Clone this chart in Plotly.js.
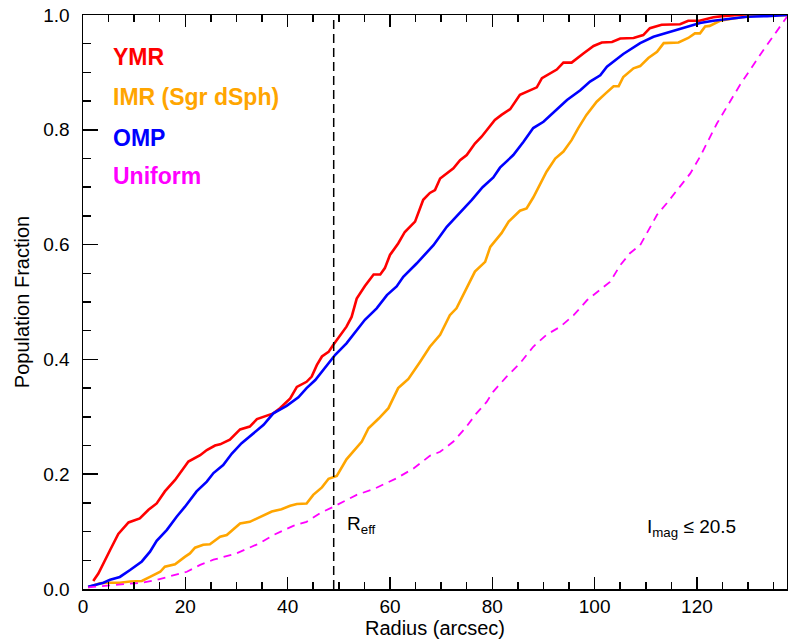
<!DOCTYPE html>
<html>
<head>
<meta charset="utf-8">
<script src="https://cdn.plot.ly/plotly-3.0.1.min.js"></script>
<style>html,body{margin:0;padding:0;background:#fff;}#chart{width:788px;height:640px;}</style>
</head>
<body>
<div id="chart"></div>
<script>
// ---- Data ----
const seriesNames = ["YMR", "IMR (Sgr dSph)", "OMP", "Uniform"];
const seriesColors = ["#ff0000", "#ffa500", "#0000ff", "#ff00ff"];

const ymrR = [2, 3, 5.3, 6.9, 8.9, 11.1, 12.8, 14.4, 16.0, 18.0, 20.6, 22.9, 24.2, 25.8, 26.8, 28.7, 30.7, 32.6, 34.0, 37.2, 38.5, 40.5, 41.8, 43.7, 44.7, 45.7, 46.7, 48.0, 48.9, 51.5, 52.5, 53.5, 55.1, 56.8, 58.1, 59.0, 60.0, 61.6, 62.9, 64.9, 66.5, 67.8, 68.8, 69.8, 72.4, 73.7, 75.0, 76.6, 77.9, 80.5, 81.8, 83.5, 85.4, 88.7, 89.7, 92.6, 93.9, 95.5, 97.8, 99.8, 101.4, 103.4, 105.0, 107.6, 109.5, 110.8, 113.1, 116.7, 118.3, 120.5, 123.2, 125, 128, 137.6];
const ymrF = [0.014, 0.027, 0.068, 0.096, 0.116, 0.123, 0.138, 0.149, 0.170, 0.190, 0.222, 0.233, 0.242, 0.250, 0.252, 0.260, 0.278, 0.283, 0.296, 0.306, 0.315, 0.332, 0.352, 0.361, 0.370, 0.390, 0.405, 0.413, 0.425, 0.457, 0.474, 0.506, 0.528, 0.548, 0.548, 0.559, 0.582, 0.602, 0.622, 0.640, 0.678, 0.690, 0.695, 0.715, 0.733, 0.747, 0.756, 0.776, 0.788, 0.817, 0.826, 0.836, 0.861, 0.874, 0.890, 0.905, 0.917, 0.917, 0.933, 0.946, 0.952, 0.953, 0.959, 0.960, 0.965, 0.977, 0.983, 0.984, 0.990, 0.990, 0.996, 0.998, 1.0, 1.0];

const imrR = [1, 3.3, 5.3, 7.2, 9.2, 11.5, 13.1, 15.1, 16.0, 18.0, 19.9, 20.9, 21.9, 23.5, 24.8, 26.8, 28.1, 30.7, 32.6, 34.6, 36.9, 38.8, 40.5, 41.8, 43.7, 45.0, 46.7, 48.0, 49.6, 51.5, 54.5, 55.8, 57.8, 59.7, 61.6, 62.6, 63.6, 65.9, 67.8, 69.8, 71.7, 73.0, 75.0, 76.6, 78.6, 79.6, 81.8, 83.2, 85.4, 86.7, 88.0, 89.7, 90.6, 92.3, 93.9, 95.5, 96.8, 98.4, 100.4, 102.1, 103.7, 104.7, 105.6, 107.6, 108.9, 110.5, 112.2, 113.5, 116.4, 118.3, 119.6, 120.6, 121.6, 122.5, 124.5, 127.1, 129.8, 132, 137.6];
const imrF = [0.003, 0.010, 0.011, 0.011, 0.013, 0.014, 0.021, 0.030, 0.039, 0.043, 0.056, 0.062, 0.072, 0.077, 0.078, 0.091, 0.094, 0.114, 0.117, 0.126, 0.135, 0.139, 0.145, 0.148, 0.149, 0.164, 0.177, 0.192, 0.197, 0.226, 0.257, 0.280, 0.297, 0.315, 0.350, 0.358, 0.366, 0.396, 0.422, 0.443, 0.477, 0.489, 0.524, 0.553, 0.570, 0.596, 0.620, 0.640, 0.659, 0.663, 0.682, 0.710, 0.727, 0.750, 0.762, 0.782, 0.803, 0.826, 0.849, 0.863, 0.876, 0.876, 0.892, 0.907, 0.911, 0.925, 0.936, 0.951, 0.952, 0.960, 0.968, 0.968, 0.980, 0.981, 0.990, 0.994, 0.997, 1.0, 1.0];

const ompR = [1.0, 4.0, 5.3, 7.2, 9.2, 11.5, 13.1, 14.4, 16.4, 18.3, 19.9, 22.2, 24.2, 25.5, 27.4, 29.1, 31.0, 33.3, 35.3, 37.2, 39.8, 42.1, 43.7, 45.4, 49.3, 51.5, 55.1, 57.4, 59.4, 61.3, 62.6, 65.2, 66.5, 68.5, 71.1, 73.7, 76.0, 78.1, 80.2, 81.5, 84.1, 86.1, 88.0, 90.0, 91.9, 94.6, 97.2, 99.1, 101.1, 102.4, 105.6, 108.9, 111.5, 113.8, 116.1, 118.0, 120.6, 123.2, 126.5, 129.8, 133.7, 137.6];
const ompF = [0.004, 0.011, 0.016, 0.021, 0.033, 0.048, 0.065, 0.084, 0.103, 0.126, 0.143, 0.170, 0.187, 0.202, 0.216, 0.236, 0.254, 0.271, 0.286, 0.306, 0.319, 0.334, 0.350, 0.364, 0.408, 0.428, 0.469, 0.489, 0.512, 0.527, 0.544, 0.567, 0.579, 0.599, 0.631, 0.655, 0.678, 0.700, 0.717, 0.734, 0.756, 0.779, 0.803, 0.814, 0.829, 0.852, 0.869, 0.884, 0.895, 0.910, 0.932, 0.951, 0.962, 0.968, 0.975, 0.980, 0.986, 0.990, 0.994, 0.997, 0.998, 1.0];

const uniR = [1.0, 7.2, 11.5, 14.4, 17.7, 20.3, 22.9, 25.5, 30.0, 34.6, 37.2, 41.1, 43.7, 46.3, 48.9, 53.5, 56.8, 61.3, 64.6, 67.8, 69.8, 72.4, 74.7, 76.9, 78.9, 80.2, 82.8, 85.4, 88.0, 90.6, 93.3, 95.9, 98.5, 101.1, 103.0, 105.0, 106.9, 108.9, 110.5, 112.2, 114.1, 116.1, 118.7, 120.6, 123.9, 128.4, 133.0, 137.6];
const uniF = [0.003, 0.007, 0.011, 0.016, 0.024, 0.030, 0.042, 0.051, 0.062, 0.080, 0.094, 0.110, 0.117, 0.132, 0.143, 0.164, 0.174, 0.193, 0.210, 0.232, 0.239, 0.257, 0.280, 0.306, 0.326, 0.344, 0.370, 0.393, 0.422, 0.443, 0.457, 0.477, 0.503, 0.521, 0.535, 0.564, 0.585, 0.599, 0.625, 0.652, 0.672, 0.695, 0.724, 0.753, 0.811, 0.878, 0.939, 0.997];

const rEff = 49.0;
const xTickVals = [0, 20, 40, 60, 80, 100, 120];
const yTickVals = [0, 0.2, 0.4, 0.6, 0.8, 1.0];
const yTickText = ["0.0", "0.2", "0.4", "0.6", "0.8", "1.0"];
const legendY = [0.927, 0.857, 0.786, 0.719];

// ---- Plot ----
const FONT = "Liberation Sans, Arial, Helvetica, sans-serif";
const seriesR = [ymrR, imrR, ompR, uniR];
const seriesF = [ymrF, imrF, ompF, uniF];

const traces = seriesNames.map((n, i) => ({
  type: "scatter", mode: "lines", name: n,
  x: seriesR[i], y: seriesF[i],
  line: {color: seriesColors[i], width: i === 3 ? 1.8 : 2.6, dash: i === 3 ? "8px,6px" : "solid"},
  hoverinfo: "skip", showlegend: false
}));
traces.push({
  type: "scatter", mode: "lines", x: [rEff, rEff], y: [0, 1],
  line: {color: "#000", width: 1.5, dash: "9px,5px"}, hoverinfo: "skip", showlegend: false
});

const annotations = seriesNames.map((n, i) => ({
  xref: "x", yref: "y", x: 5.5, y: legendY[i], xanchor: "left", yanchor: "middle",
  text: "<b>" + n + "</b>", showarrow: false,
  font: {family: FONT, size: 23, color: seriesColors[i]}
}));
annotations.push({
  xref: "x", yref: "y", x: 51.2, y: 0.112, xanchor: "left", yanchor: "middle",
  text: "R<sub>eff</sub>", showarrow: false, font: {family: FONT, size: 19, color: "#000"}
});
annotations.push({
  xref: "x", yref: "y", x: 109.8, y: 0.106, xanchor: "left", yanchor: "middle",
  text: "I<sub>mag</sub> \u2264 20.5", showarrow: false, font: {family: FONT, size: 19, color: "#000"}
});

const layout = {
  width: 788, height: 640,
  margin: {l: 83, r: 1, t: 15, b: 51},
  paper_bgcolor: "#fff", plot_bgcolor: "#fff",
  font: {family: FONT, size: 19, color: "#000"},
  xaxis: {
    range: [0, 137.6], tickvals: xTickVals, ticks: "inside", ticklen: 12, tickwidth: 1.5,
    tickcolor: "#000", showline: true, linecolor: "#000", linewidth: 1.5, mirror: "ticks",
    showgrid: false, zeroline: false,
    minor: {dtick: 5, ticks: "inside", ticklen: 7, tickwidth: 1.5, tickcolor: "#000", showgrid: false},
    tickfont: {family: FONT, size: 19}, ticklabelstandoff: 0,
    title: {text: "Radius (arcsec)", font: {family: FONT, size: 20}, standoff: 2}
  },
  yaxis: {
    range: [0, 1], tickvals: yTickVals, ticktext: yTickText, ticks: "inside", ticklen: 15, tickwidth: 1.5,
    tickcolor: "#000", showline: true, linecolor: "#000", linewidth: 1.5, mirror: true,
    showgrid: false, zeroline: false,
    minor: {dtick: 0.05, ticks: "inside", ticklen: 8, tickwidth: 1.5, tickcolor: "#000", showgrid: false},
    tickfont: {family: FONT, size: 19}, ticklabelstandoff: 8,
    title: {text: "Population Fraction", font: {family: FONT, size: 20}, standoff: 8}
  },
  yaxis2: {
    overlaying: "y", side: "right", anchor: "x", range: [0, 1], tickvals: yTickVals,
    ticks: "inside", ticklen: 8, tickwidth: 1.5, tickcolor: "#000", showticklabels: false,
    showline: false, showgrid: false, zeroline: false,
    minor: {dtick: 0.05, ticks: "inside", ticklen: 3, tickwidth: 1.5, tickcolor: "#000", showgrid: false}
  },
  annotations: annotations,
  showlegend: false
};

Plotly.newPlot("chart", traces, layout, {staticPlot: true, displayModeBar: false});
</script>
</body>
</html>
